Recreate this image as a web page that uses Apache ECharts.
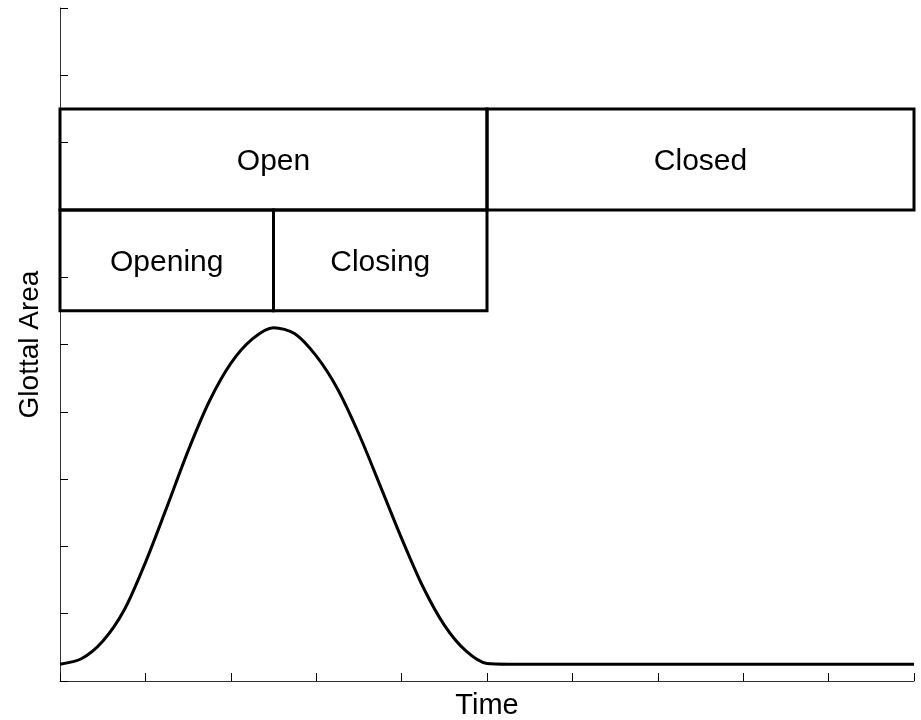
<!DOCTYPE html>
<html>
<head>
<meta charset="utf-8">
<script src="https://cdn.jsdelivr.net/npm/echarts@6/dist/echarts.min.js"></script>
<style>
  html, body { margin: 0; padding: 0; background: #fff; }
  #main { width: 921px; height: 720px; }
</style>
</head>
<body>
<div id="main"></div>
<script>
// glottal area curve (time, area)
const times = [0, 0.025, 0.05, 0.075, 0.1, 0.125, 0.15, 0.175, 0.2, 0.225, 0.25,
  0.275, 0.3, 0.325, 0.35, 0.375, 0.4, 0.425, 0.45, 0.475, 0.5, 0.525, 0.6, 1.0];
const areas = [0.025, 0.033, 0.059, 0.105, 0.176, 0.258, 0.342, 0.416, 0.472, 0.508, 0.525,
  0.516, 0.483, 0.434, 0.367, 0.29, 0.212, 0.14, 0.083, 0.045, 0.026, 0.025, 0.025, 0.025];

// phase boxes: [xStart, xEnd, yBottom, yTop]
const phaseNames = ['Open', 'Closed', 'Opening', 'Closing'];
const phaseBoxes = [
  [0, 0.5, 0.7, 0.85],
  [0.5, 1, 0.7, 0.85],
  [0, 0.25, 0.55, 0.7],
  [0.25, 0.5, 0.55, 0.7]
];

const FONT = 'Liberation Sans, Arial, sans-serif';

const chart = echarts.init(document.getElementById('main'));

const option = {
  animation: false,
  grid: {
    left: 60,
    right: 7,
    top: 8,
    bottom: 39,
    containLabel: false,
    outerBoundsMode: 'none'
  },
  xAxis: {
    type: 'value',
    min: 0,
    max: 1,
    interval: 0.1,
    name: 'Time',
    nameLocation: 'middle',
    nameGap: 10,
    nameTextStyle: { fontFamily: FONT, fontSize: 29, color: '#000', verticalAlign: 'top' },
    axisLine: { lineStyle: { color: '#333', width: 1 } },
    axisTick: { inside: true, length: 8, lineStyle: { color: '#000' } },
    axisLabel: { show: false },
    splitLine: { show: false }
  },
  yAxis: {
    type: 'value',
    min: 0,
    max: 1,
    interval: 0.1,
    name: 'Glottal Area',
    nameLocation: 'middle',
    nameGap: 16,
    nameTextStyle: { fontFamily: FONT, fontSize: 28, color: '#000' },
    axisLine: { show: true, lineStyle: { color: '#333', width: 1 } },
    axisTick: { show: true, inside: true, length: 8, lineStyle: { color: '#000' } },
    axisLabel: { show: false },
    splitLine: { show: false }
  },
  series: [
    {
      type: 'line',
      data: times.map((t, i) => [t, areas[i]]),
      smooth: 0.3,
      showSymbol: false,
      lineStyle: { color: '#000', width: 3 }
    },
    {
      type: 'custom',
      data: phaseBoxes.map((b, i) => b.concat([i])),
      renderItem: function (params, api) {
        const p0 = api.coord([api.value(0), api.value(3)]);
        const p1 = api.coord([api.value(1), api.value(2)]);
        const name = phaseNames[api.value(4)];
        return {
          type: 'group',
          children: [
            {
              type: 'rect',
              shape: { x: p0[0], y: p0[1], width: p1[0] - p0[0], height: p1[1] - p0[1] },
              style: { fill: 'none', stroke: '#000', lineWidth: 3 }
            },
            {
              type: 'text',
              x: (p0[0] + p1[0]) / 2,
              y: (p0[1] + p1[1]) / 2 + 2,
              style: {
                text: name,
                fontFamily: FONT,
                fontSize: 30,
                fill: '#000',
                align: 'center',
                verticalAlign: 'middle'
              }
            }
          ]
        };
      }
    }
  ]
};

chart.setOption(option);
</script>
</body>
</html>
